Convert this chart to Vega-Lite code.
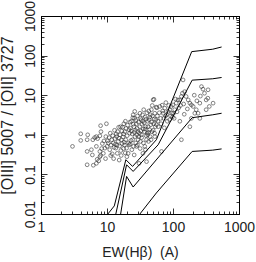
{
  "$schema": "https://vega.github.io/schema/vega-lite/v6.json",
  "width": 198,
  "height": 198,
  "autosize": {"type": "none"},
  "padding": {"left": 41, "top": 16, "right": 17, "bottom": 48},
  "config": {
    "view": {"stroke": "black", "strokeWidth": 1},
    "axis": {
      "grid": false,
      "domainColor": "black",
      "tickColor": "black",
      "tickWidth": 0.8,
      "labelFont": "Liberation Sans",
      "labelFontSize": 14,
      "labelColor": "#222",
      "titleFont": "Liberation Sans",
      "titleFontWeight": "normal",
      "titleColor": "#222",
      "labelFlush": false,
      "labelOverlap": false
    }
  },
  "datasets": {
    "pts": [
      {"ew":3.0,"r":0.51},{"ew":4.0,"r":1.06},{"ew":4.0,"r":0.72},{"ew":5.1,"r":1.0},{"ew":5.0,"r":0.75},{"ew":5.0,"r":0.38},{"ew":5.0,"r":0.175},{"ew":6.1,"r":0.75},{"ew":6.2,"r":0.17},{"ew":6.0,"r":0.31},{"ew":6.9,"r":0.51},{"ew":6.9,"r":0.9},{"ew":7.8,"r":0.94},{"ew":8.0,"r":1.7},{"ew":8.1,"r":1.2},{"ew":7.1,"r":0.24},{"ew":6.9,"r":0.19},{"ew":7.8,"r":0.38},{"ew":8.8,"r":0.34},{"ew":7.8,"r":0.28},{"ew":9.6,"r":0.9},{"ew":9.8,"r":1.9},{"ew":10,"r":0.51},{"ew":9.3,"r":0.46},{"ew":8.5,"r":0.6},{"ew":7.2,"r":0.8},{"ew":8.3,"r":0.45},{"ew":9.0,"r":0.7},{"ew":6.5,"r":0.85},{"ew":7.5,"r":0.22},{"ew":8.0,"r":0.3},{"ew":9.5,"r":0.25},{"ew":5.8,"r":0.42},
      {"ew":10.5,"r":0.62},{"ew":10.8,"r":0.85},{"ew":11.0,"r":0.42},{"ew":11.2,"r":1.1},{"ew":11.5,"r":0.55},{"ew":11.8,"r":0.75},{"ew":12.0,"r":0.33},{"ew":12.2,"r":0.95},{"ew":12.5,"r":0.62},{"ew":12.8,"r":0.48},{"ew":13.0,"r":1.3},{"ew":13.2,"r":0.8},{"ew":10.2,"r":0.7},{"ew":11.4,"r":0.3},{"ew":12.6,"r":0.25},{"ew":13.4,"r":0.58},
      {"ew":13.6,"r":0.46},{"ew":14.0,"r":0.9},{"ew":14.3,"r":0.34},{"ew":14.5,"r":1.2},{"ew":14.8,"r":0.68},{"ew":15.0,"r":1.55},{"ew":15.3,"r":0.23},{"ew":15.5,"r":0.52},{"ew":15.8,"r":1.0},{"ew":16.0,"r":1.6},{"ew":16.2,"r":0.4},{"ew":16.5,"r":0.75},{"ew":16.8,"r":1.25},{"ew":17.0,"r":0.6},{"ew":14.2,"r":0.55},{"ew":15.2,"r":0.82},{"ew":16.4,"r":0.3},{"ew":13.8,"r":1.05},
      {"ew":17.2,"r":1.56},{"ew":17.5,"r":0.88},{"ew":17.8,"r":0.45},{"ew":18.0,"r":1.9},{"ew":18.2,"r":0.65},{"ew":18.6,"r":1.2},{"ew":18.9,"r":0.35},{"ew":19.2,"r":0.75},{"ew":19.5,"r":1.45},{"ew":19.8,"r":0.46},{"ew":20.2,"r":0.95},{"ew":20.5,"r":1.75},{"ew":20.9,"r":0.34},{"ew":21.2,"r":0.62},{"ew":21.7,"r":0.56},{"ew":22.0,"r":1.1},{"ew":22.3,"r":2.1},{"ew":17.9,"r":1.05},{"ew":19.0,"r":2.2},{"ew":20.0,"r":0.28},{"ew":21.5,"r":1.35},{"ew":18.4,"r":0.55},
      {"ew":22.7,"r":1.47},{"ew":23.0,"r":0.72},{"ew":23.5,"r":2.2},{"ew":23.8,"r":0.42},{"ew":24.1,"r":1.05},{"ew":24.4,"r":0.75},{"ew":24.9,"r":3.2},{"ew":25.2,"r":0.51},{"ew":25.5,"r":1.6},{"ew":25.8,"r":0.31},{"ew":26.1,"r":2.6},{"ew":26.3,"r":3.9},{"ew":26.6,"r":0.9},{"ew":27.0,"r":1.3},{"ew":27.3,"r":0.62},{"ew":27.8,"r":1.9},{"ew":28.0,"r":0.51},{"ew":23.2,"r":1.25},{"ew":24.6,"r":2.7},{"ew":26.0,"r":1.15},{"ew":27.5,"r":2.3},{"ew":22.5,"r":0.58},{"ew":25.0,"r":1.85},{"ew":28.2,"r":1.0},
      {"ew":28.6,"r":1.45},{"ew":29.0,"r":3.0},{"ew":29.6,"r":0.75},{"ew":30.0,"r":2.1},{"ew":30.6,"r":0.19},{"ew":31.0,"r":1.1},{"ew":31.3,"r":1.6},{"ew":31.8,"r":0.45},{"ew":32.2,"r":2.6},{"ew":32.6,"r":1.25},{"ew":33.0,"r":2.4},{"ew":33.5,"r":0.85},{"ew":34.0,"r":1.85},{"ew":34.5,"r":3.2},{"ew":35.0,"r":0.34},{"ew":35.4,"r":1.4},{"ew":36.0,"r":4.3},{"ew":29.3,"r":1.2},{"ew":30.3,"r":0.9},{"ew":31.6,"r":3.5},{"ew":33.2,"r":1.0},{"ew":34.8,"r":2.2},{"ew":35.7,"r":0.62},{"ew":28.9,"r":0.55},{"ew":32.0,"r":0.68},
      {"ew":36.5,"r":2.0},{"ew":37.0,"r":1.2},{"ew":37.4,"r":0.51},{"ew":38.0,"r":2.8},{"ew":38.6,"r":1.6},{"ew":39.2,"r":0.95},{"ew":39.7,"r":0.75},{"ew":40.2,"r":3.6},{"ew":40.6,"r":1.1},{"ew":41.2,"r":2.2},{"ew":42.0,"r":1.6},{"ew":42.6,"r":0.68},{"ew":43.0,"r":4.0},{"ew":43.6,"r":2.4},{"ew":44.2,"r":1.35},{"ew":45.0,"r":0.9},{"ew":45.5,"r":3.2},{"ew":46.0,"r":1.8},{"ew":37.8,"r":1.4},{"ew":39.0,"r":2.5},{"ew":41.5,"r":1.0},{"ew":44.6,"r":2.8},{"ew":39.7,"r":0.21},{"ew":38.2,"r":0.42},{"ew":42.8,"r":1.15},
      {"ew":47.0,"r":4.3},{"ew":47.5,"r":2.1},{"ew":48.0,"r":1.2},{"ew":49.0,"r":3.0},{"ew":50.0,"r":7.6},{"ew":50.0,"r":1.3},{"ew":51.5,"r":7.9},{"ew":52.0,"r":2.5},{"ew":53.0,"r":3.5},{"ew":53.0,"r":0.9},{"ew":54.0,"r":1.6},{"ew":55.0,"r":2.4},{"ew":56.0,"r":1.8},{"ew":57.0,"r":4.8},{"ew":58.0,"r":3.0},{"ew":59.0,"r":2.2},{"ew":48.5,"r":5.5},{"ew":51.0,"r":1.9},{"ew":55.5,"r":5.0},{"ew":46.5,"r":0.75},{"ew":60,"r":1.6},{"ew":52.5,"r":1.1},
      {"ew":62,"r":3.6},{"ew":63,"r":5.2},{"ew":65,"r":2.6},{"ew":67,"r":0.38},{"ew":68.6,"r":5.6},{"ew":70,"r":4.0},{"ew":71,"r":3.5},{"ew":72.6,"r":2.6},{"ew":75,"r":4.7},{"ew":77,"r":3.0},{"ew":80,"r":3.2},{"ew":82,"r":2.2},{"ew":84,"r":3.9},{"ew":86,"r":5.5},{"ew":89,"r":4.3},{"ew":89,"r":2.4},{"ew":92,"r":3.0},{"ew":94,"r":5.2},{"ew":96,"r":3.5},{"ew":98,"r":2.8},{"ew":66,"r":1.9},{"ew":74,"r":1.5},{"ew":78,"r":6.5},
      {"ew":100,"r":5.7},{"ew":102,"r":3.5},{"ew":104,"r":2.6},{"ew":106,"r":4.3},{"ew":109,"r":8.0},{"ew":112,"r":6.3},{"ew":115,"r":3.8},{"ew":119,"r":7.6},{"ew":122,"r":4.8},{"ew":127,"r":7.6},{"ew":127,"r":2.2},{"ew":130,"r":5.5},{"ew":134,"r":9.3},{"ew":134,"r":0.75},{"ew":139,"r":11.2},{"ew":142,"r":24.3},{"ew":145,"r":6.0},{"ew":150,"r":12.3},{"ew":148,"r":3.3},
      {"ew":158,"r":9.3},{"ew":165,"r":4.5},{"ew":170,"r":7.6},{"ew":180,"r":6.3},{"ew":180,"r":1.6},{"ew":190,"r":5.7},{"ew":190,"r":2.6},{"ew":202,"r":5.2},{"ew":214,"r":3.5},{"ew":225,"r":4.3},{"ew":240,"r":3.5},{"ew":255,"r":6.3},{"ew":255,"r":2.6},{"ew":270,"r":16.5},{"ew":285,"r":14.2},{"ew":300,"r":11.2},{"ew":318,"r":7.6},{"ew":318,"r":4.3},{"ew":337,"r":8.4},{"ew":340,"r":13.7},{"ew":355,"r":5.2},{"ew":405,"r":6.3},{"ew":210,"r":10},{"ew":230,"r":7.2},{"ew":260,"r":9.5}
    ],
    "models": [
      {"m":"a","i":0,"ew":10.3,"r":0.01},{"m":"a","i":1,"ew":12.9,"r":0.016},{"m":"a","i":2,"ew":19.3,"r":0.235},{"m":"a","i":3,"ew":24.4,"r":0.159},{"m":"a","i":4,"ew":56,"r":0.75},{"m":"a","i":5,"ew":192,"r":126},{"m":"a","i":6,"ew":400,"r":145},{"m":"a","i":7,"ew":545,"r":165},
      {"m":"b","i":0,"ew":13.6,"r":0.01},{"m":"b","i":1,"ew":19.8,"r":0.175},{"m":"b","i":2,"ew":24.9,"r":0.119},{"m":"b","i":3,"ew":59.6,"r":0.56},{"m":"b","i":4,"ew":195,"r":24},{"m":"b","i":5,"ew":400,"r":26},{"m":"b","i":6,"ew":545,"r":28},
      {"m":"c","i":0,"ew":16.1,"r":0.01},{"m":"c","i":1,"ew":19.8,"r":0.089},{"m":"c","i":2,"ew":24.9,"r":0.048},{"m":"c","i":3,"ew":195,"r":2.7},{"m":"c","i":4,"ew":400,"r":3.2},{"m":"c","i":5,"ew":545,"r":3.5},
      {"m":"d","i":0,"ew":31.5,"r":0.01},{"m":"d","i":1,"ew":56,"r":0.034},{"m":"d","i":2,"ew":195,"r":0.38},{"m":"d","i":3,"ew":400,"r":0.41},{"m":"d","i":4,"ew":545,"r":0.44}
    ]
  },
  "layer": [
    {
      "data": {"name": "pts"},
      "mark": {"type": "point", "shape": "circle", "filled": false, "size": 14, "stroke": "#222", "strokeWidth": 0.8, "clip": true},
      "encoding": {
        "x": {
          "field": "ew", "type": "quantitative",
          "scale": {"type": "log", "domain": [1, 1000], "nice": false},
          "axis": {
            "orient": "bottom",
            "values": [1,2,3,4,5,6,7,8,9,10,20,30,40,50,60,70,80,90,100,200,300,400,500,600,700,800,900,1000],
            "labelExpr": "indexof([1,10,100,1000], datum.value) >= 0 ? format(datum.value, '~g') : ''",
            "tickSize": {"condition": {"test": "indexof([1,10,100,1000], datum.value) >= 0", "value": -6}, "value": -3},
            "labelPadding": 12,
            "title": "EW(Hβ)\u00a0\u00a0(A)",
            "titleFontSize": 14,
            "titlePadding": 8
          }
        },
        "y": {
          "field": "r", "type": "quantitative",
          "scale": {"type": "log", "domain": [0.01, 1000], "nice": false},
          "axis": {
            "orient": "left",
            "values": [0.01,0.02,0.03,0.04,0.05,0.06,0.07,0.08,0.09,0.1,0.2,0.3,0.4,0.5,0.6,0.7,0.8,0.9,1,2,3,4,5,6,7,8,9,10,20,30,40,50,60,70,80,90,100,200,300,400,500,600,700,800,900,1000],
            "labelExpr": "indexof([0.01,0.1,1,10,100,1000], datum.value) >= 0 ? format(datum.value, '~g') : ''",
            "tickSize": {"condition": {"test": "indexof([0.01,0.1,1,10,100,1000], datum.value) >= 0", "value": -6}, "value": -3},
            "labelAngle": 270,
            "labelAlign": "center",
            "labelBaseline": "alphabetic",
            "labelPadding": 13,
            "title": "[OIII] 5007 / [OII] 3727",
            "titleFontSize": 16,
            "titlePadding": 5
          }
        }
      }
    },
    {
      "data": {"name": "models"},
      "mark": {"type": "line", "color": "black", "strokeWidth": 1, "clip": true},
      "encoding": {
        "x": {
          "field": "ew", "type": "quantitative",
          "scale": {"type": "log", "domain": [1, 1000], "nice": false},
          "axis": {
            "orient": "top",
            "values": [1,2,3,4,5,6,7,8,9,10,20,30,40,50,60,70,80,90,100,200,300,400,500,600,700,800,900,1000],
            "labels": false,
            "tickSize": {"condition": {"test": "indexof([1,10,100,1000], datum.value) >= 0", "value": -6}, "value": -3},
            "title": null
          }
        },
        "y": {
          "field": "r", "type": "quantitative",
          "scale": {"type": "log", "domain": [0.01, 1000], "nice": false},
          "axis": {
            "orient": "right",
            "values": [0.01,0.02,0.03,0.04,0.05,0.06,0.07,0.08,0.09,0.1,0.2,0.3,0.4,0.5,0.6,0.7,0.8,0.9,1,2,3,4,5,6,7,8,9,10,20,30,40,50,60,70,80,90,100,200,300,400,500,600,700,800,900,1000],
            "labels": false,
            "tickSize": {"condition": {"test": "indexof([0.01,0.1,1,10,100,1000], datum.value) >= 0", "value": -6}, "value": -3},
            "title": null
          }
        },
        "detail": {"field": "m"},
        "order": {"field": "i"}
      }
    }
  ],
  "resolve": {"scale": {"x": "independent", "y": "independent"}}
}
